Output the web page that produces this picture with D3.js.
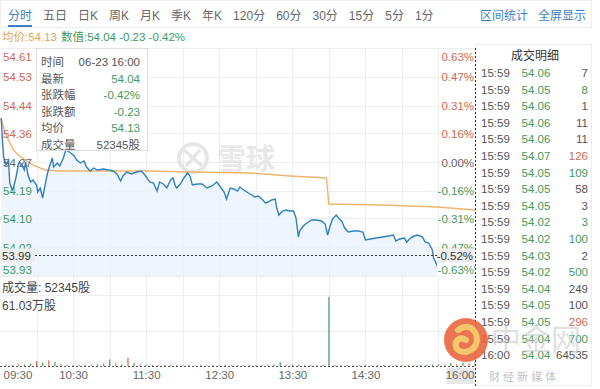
<!DOCTYPE html>
<html><head><meta charset="utf-8">
<script src="https://cdn.jsdelivr.net/npm/d3@7"></script>
<style>
body{margin:0;background:#fff;}
svg{display:block;font-family:"Liberation Sans","Noto Sans CJK SC",Arial,sans-serif;}
</style>
</head><body>
<svg id="c" width="600" height="389"></svg>
<script>
// ---------------- DATA ----------------
const preClose = 54.27;
const priceTimes = ["09:31","09:32","09:33","09:35","09:37","09:38","09:40","09:41","09:43","09:45","09:46","09:48","09:50","09:51","09:53","09:55","09:57","10:00","10:01","10:03","10:05","10:07","10:09","10:11","10:13","10:14","10:17","10:19","10:22","10:24","10:27","10:31","10:33","10:36","10:39","10:41","10:44","10:47","10:50","10:55","10:59","11:03","11:06","11:09","11:11","11:14","11:18","11:22","11:26","11:29","11:33","11:36","11:39","11:41","11:44","11:47","11:50","11:52","11:54","11:55","11:58","12:01","12:04","12:06","12:08","12:12","12:16","12:20","12:24","12:28","12:31","12:34","12:36","12:39","12:42","12:45","12:47","12:50","12:54","12:57","12:59","13:02","13:05","13:08","13:10","13:13","13:16","13:17","13:19","13:22","13:25","13:28","13:31","13:33","13:35","13:36","13:39","13:42","13:46","13:50","13:54","13:57","13:59","14:01","14:03","14:06","14:08","14:11","14:13","14:16","14:20","14:24","14:28","14:30","14:34","14:39","14:44","14:49","14:53","14:55","14:58","15:02","15:04","15:07","15:10","15:13","15:17","15:19","15:22","15:25","15:26","15:28","15:30","15:33","15:36","15:41","15:48","15:54","16:00"];
const priceValues = [54.402,54.336,54.285,54.261,54.276,54.207,54.186,54.192,54.222,54.261,54.270,54.261,54.246,54.270,54.231,54.210,54.216,54.201,54.180,54.192,54.162,54.201,54.237,54.261,54.282,54.255,54.267,54.258,54.282,54.306,54.300,54.288,54.276,54.267,54.273,54.255,54.243,54.252,54.246,54.249,54.246,54.243,54.234,54.213,54.228,54.240,54.234,54.240,54.243,54.231,54.210,54.207,54.183,54.210,54.204,54.192,54.216,54.222,54.198,54.192,54.204,54.222,54.237,54.228,54.201,54.204,54.204,54.192,54.198,54.210,54.195,54.180,54.159,54.192,54.189,54.183,54.195,54.186,54.177,54.171,54.165,54.168,54.159,54.147,54.150,54.156,54.159,54.135,54.111,54.123,54.126,54.123,54.123,54.102,54.045,54.063,54.078,54.087,54.096,54.096,54.093,54.084,54.051,54.078,54.099,54.111,54.102,54.090,54.072,54.060,54.063,54.063,54.060,54.036,54.039,54.042,54.045,54.048,54.051,54.033,54.039,54.042,54.030,54.042,54.048,54.051,54.045,54.030,54.027,54.006,53.982,53.967,53.949,53.955,53.946,53.955,53.952,53.952,53.955];
const avgTimes = ["09:31","09:34","09:41","09:46","09:57","10:07","10:19","11:33","12:06","12:55","13:28","13:58","14:00","14:44","15:29","16:00"];
const avgValues = [54.400,54.360,54.306,54.288,54.261,54.246,54.243,54.243,54.240,54.237,54.228,54.222,54.144,54.141,54.135,54.126];

const volTimes = ["09:35","09:40","09:45","09:50","09:55","10:00","10:05","10:10","10:15","10:20","10:25","10:30","10:35","10:40","10:45","10:50","10:55","11:00","11:05","11:10","11:15","11:20","11:25","11:30","11:35","11:40","11:45","11:50","11:55","12:00","12:05","12:10","12:15","12:20","12:25","12:30","12:35","12:40","12:45","12:50","12:55","13:00","13:05","13:10","13:15","13:20","13:25","13:30","13:35","13:40","13:45","13:50","13:55","14:00","14:05","14:10","14:15","14:20","14:25","14:30","14:35","14:40","14:45","14:50","14:55","15:00","15:05","15:10","15:15","15:20","15:25","15:30","15:35","15:40","15:45","15:50","15:55","16:00"];
const volValues = [1.2,1.0,1.6,1.2,2.0,4.2,3.0,4.8,3.6,1.5,1.0,0.8,1.0,0.8,1.2,1.4,2.2,5.6,2.4,1.5,7.2,2.6,1.4,1.0,0.8,1.0,0.8,1.2,0.9,0.8,1.0,0.7,0.8,0.6,0.8,0.7,1.0,0.8,0.9,0.7,1.0,0.8,0.9,1.2,1.4,3.2,1.0,0.9,1.3,0.8,0.9,0.7,1.0,59.5,1.0,0.8,0.9,0.7,0.8,1.0,0.7,0.8,0.9,0.7,1.0,0.8,0.9,0.8,1.0,0.9,1.2,1.5,1.2,2.5,1.4,3.0,2.2,3.6];
const volUp = [1,0,1,0,0,1,0,1,0,1,0,1,0,0,1,0,1,0,1,0,1,0,1,0,0,1,0,1,0,1,0,0,1,0,0,1,0,1,0,0,1,0,0,1,0,0,1,0,0,1,0,1,0,0,1,0,0,1,0,0,1,0,1,0,0,1,0,1,0,0,0,0,1,0,1,0,1,0];
const volMax = 61.03;

const pctTicks = [0.63,0.47,0.31,0.16,0,-0.16,-0.31,-0.47,-0.63];
const priceTickLabels = ["54.61","54.53","54.44","54.36","54.27","54.19","54.10","54.02","53.93"];
const pctTickLabels = ["0.63%","0.47%","0.31%","0.16%","0.00%","-0.16%","-0.31%","-0.47%","-0.63%"];
const timeTicks = ["09:30","10:30","11:30","12:30","13:30","14:30","16:00"];
const gridTimes = ["10:00","10:30","11:00","11:30","12:00","12:30","13:00","13:30","14:00","14:30","15:00","15:30"];
const lastPrice = 53.99, lastPctLabel = "-0.52%", lastPriceLabel = "53.99";

const tabs = ["分时","五日","日K","周K","月K","季K","年K","120分","60分","30分","15分","5分","1分"];
const links = ["区间统计","全屏显示"];
const headerAvg = "均价:54.13";
const headerVal = "数值:54.04 -0.23 -0.42%";
const volLabel = "成交量: 52345股";
const volMaxLabel = "61.03万股";

const tipLabels = ["时间","最新","张跌幅","张跌额","均价","成交量"];
const tipValues = ["06-23 16:00","54.04","-0.42%","-0.23","54.13","52345股"];

const detailTitle = "成交明细";
const detailTimes = ["15:59","15:59","15:59","15:59","15:59","15:59","15:59","15:59","15:59","15:59","15:59","15:59","15:59","15:59","15:59","15:59","15:59","16:00"];
const detailPrices = ["54.06","54.05","54.06","54.06","54.06","54.07","54.05","54.05","54.05","54.02","54.02","54.03","54.02","54.04","54.05","54.05","54.04","54.04"];
const detailVols = ["7","8","1","11","11","126","109","58","3","3","100","2","500","249","100","296","700","64535"];
const detailSide = ["n","s","n","n","n","b","s","n","n","s","s","n","s","n","n","b","s","n"];

// ---------------- DRAW ----------------
const RED = "#cf6a52", GREEN = "#3f9a5c", GRAY = "#666", BLUE = "#3d7fc3";
const svg = d3.select("#c");
const toMin = t => { const [h, m] = t.split(":").map(Number); return (h - 9) * 60 + m - 30; };

const L = 0, R = 475, T = 48, B = 276, VT = 295, VB = 366;
const x = d3.scaleLinear().domain([0, 390]).range([L, R]);
const pMin = preClose * (1 - 0.0063), pMax = preClose * (1 + 0.0063);
const y = d3.scaleLinear().domain([pMin, pMax]).range([B, T]);
const yv = d3.scaleLinear().domain([0, volMax]).range([VB, VT]);

// top bar
svg.append("rect").attr("x", 0.5).attr("y", 0.5).attr("width", 591).attr("height", 27).attr("fill", "#fff").attr("stroke", "#eee");
let tx = 8;
tabs.forEach((t, i) => {
  const el = svg.append("text").attr("x", tx).attr("y", 19.5).attr("font-size", 12)
    .attr("fill", i === 0 ? BLUE : "#666").text(t);
  const w = el.node().getComputedTextLength();
  if (i === 0) svg.append("rect").attr("x", tx).attr("y", 25).attr("width", w).attr("height", 2).attr("fill", BLUE);
  tx += w + 11;
});
svg.append("text").attr("x", 480).attr("y", 19.5).attr("font-size", 12).attr("fill", BLUE).text(links[0]);
svg.append("text").attr("x", 538).attr("y", 19.5).attr("font-size", 12).attr("fill", BLUE).text(links[1]);

// header
svg.append("text").attr("x", 2).attr("y", 41).attr("font-size", 11.5).attr("fill", "#e3a34a").text(headerAvg);
svg.append("text").attr("x", 61).attr("y", 41).attr("font-size", 11.5).attr("fill", GREEN).text(headerVal);

// grid main
const grid = svg.append("g").attr("stroke", "#eeeeee").attr("stroke-width", 1);
pctTicks.forEach(p => {
  const yy = Math.round(y(preClose * (1 + p / 100))) + 0.5;
  grid.append("line").attr("x1", L).attr("x2", R).attr("y1", yy).attr("y2", yy);
});
gridTimes.forEach(t => {
  const xx = Math.round(x(toMin(t))) + 0.5;
  grid.append("line").attr("x1", xx).attr("x2", xx).attr("y1", T).attr("y2", B);
  grid.append("line").attr("x1", xx).attr("x2", xx).attr("y1", B + 1).attr("y2", VB);
});
[VT, 331].forEach(v => grid.append("line").attr("x1", L).attr("x2", R).attr("y1", v + 0.5).attr("y2", v + 0.5));

// watermark xueqiu
const wm = svg.append("g").attr("opacity", 0.9);
wm.append("circle").attr("cx", 193).attr("cy", 158).attr("r", 14).attr("fill", "none").attr("stroke", "#e4e4e4").attr("stroke-width", 4);
wm.append("path").attr("d", "M184,150 Q193,158 202,166 M186,166 Q193,158 200,150").attr("stroke", "#e4e4e4").attr("stroke-width", 3.5).attr("fill", "none");
wm.append("text").attr("x", 217).attr("y", 170).attr("font-size", 29).attr("font-weight", "bold").attr("fill", "#e6e6e6").text("雪球");

// price area + line
const pts = priceTimes.map((t, i) => [toMin(t), priceValues[i]]);
svg.append("path").datum(pts)
  .attr("d", d3.area().x(d => x(d[0])).y0(B).y1(d => y(d[1])))
  .attr("fill", "#eaf3fb").attr("opacity", 0.8);
svg.append("path").datum(avgTimes.map((t, i) => [toMin(t), avgValues[i]]))
  .attr("d", d3.line().x(d => x(d[0])).y(d => y(d[1])))
  .attr("fill", "none").attr("stroke", "#eeb46e").attr("stroke-width", 1.4);
svg.append("path").datum(pts)
  .attr("d", d3.line().x(d => x(d[0])).y(d => y(d[1])))
  .attr("fill", "none").attr("stroke", "#2f80bf").attr("stroke-width", 1.4);

// last price dotted line
const ly = Math.round(y(lastPrice)) + 0.5;
svg.append("line").attr("x1", 35).attr("x2", 437).attr("y1", ly).attr("y2", ly)
  .attr("stroke", "#333").attr("stroke-dasharray", "2,2");

// left / right axis labels
const tickVals = pctTicks.map(p => preClose * (1 + p / 100));
const colorFor = i => pctTicks[i] > 0 ? RED : pctTicks[i] < 0 ? GREEN : GRAY;
const ax = svg.append("g").attr("transform", `translate(${L + 2},0)`)
  .call(d3.axisRight(y).tickValues(tickVals).tickSize(0).tickPadding(1).tickFormat((d, i) => priceTickLabels[i]));
const ax2 = svg.append("g").attr("transform", `translate(${R - 1},0)`)
  .call(d3.axisLeft(y).tickValues(tickVals).tickSize(0).tickPadding(0).tickFormat((d, i) => pctTickLabels[i]));
[ax, ax2].forEach(a => {
  a.select(".domain").remove();
  a.selectAll("text").attr("font-size", 11.5).attr("font-family", null)
    .attr("fill", (d, i) => colorFor(i))
    .attr("dy", (d, i) => i === 0 ? "1.05em" : i === pctTicks.length - 1 ? "-0.25em" : "0.35em");
});
const bl = ax2.selectAll(".tick").filter((d, i) => i === pctTicks.length - 1);
bl.insert("rect", "text").attr("x", -37).attr("y", -12).attr("width", 37).attr("height", 12).attr("fill", "#fff");

// last price label boxes
svg.append("rect").attr("x", 0).attr("y", ly - 7).attr("width", 35).attr("height", 14).attr("fill", "#eeeeee");
svg.append("text").attr("x", 2).attr("y", ly + 4).attr("font-size", 11.5).attr("fill", "#333").text(lastPriceLabel);
svg.append("rect").attr("x", 437).attr("y", ly - 7).attr("width", 37).attr("height", 14).attr("fill", "#eeeeee");
svg.append("text").attr("x", 473).attr("y", ly + 4).attr("text-anchor", "end").attr("font-size", 11.5).attr("fill", "#333").text(lastPctLabel);

// tooltip
const tip = svg.append("g");
tip.append("rect").attr("x", 36.5).attr("y", 48.5).attr("width", 111).attr("height", 102).attr("fill", "#fff").attr("stroke", "#ddd");
tipLabels.forEach((l, i) => {
  const yy = 66 + i * 16.5;
  tip.append("text").attr("x", 41).attr("y", yy).attr("font-size", 11.5).attr("fill", "#555").text(l);
  tip.append("text").attr("x", 140).attr("y", yy).attr("text-anchor", "end").attr("font-size", 11.5)
    .attr("fill", (i === 0 || i === 5) ? "#555" : GREEN).text(tipValues[i]);
});

// volume
svg.append("text").attr("x", 2).attr("y", 292).attr("font-size", 12).attr("fill", "#444").text(volLabel);
svg.append("text").attr("x", 2).attr("y", 310).attr("font-size", 12).attr("fill", "#444").text(volMaxLabel);
svg.append("g").selectAll("rect").data(volTimes).join("rect")
  .attr("x", d => x(toMin(d)) - 0.5).attr("width", 1.2)
  .attr("y", (d, i) => yv(volValues[i])).attr("height", (d, i) => VB - yv(volValues[i]))
  .attr("fill", (d, i) => volUp[i] ? "#d9694f" : "#4a9a62");
svg.append("line").attr("x1", L).attr("x2", R).attr("y1", VB + 0.5).attr("y2", VB + 0.5)
  .attr("stroke", "#555").attr("stroke-dasharray", "2,2");

// time axis
const tax = svg.append("g").attr("transform", `translate(0,${VB})`)
  .call(d3.axisBottom(x).tickValues(timeTicks.map(toMin)).tickSize(0).tickPadding(5).tickFormat((d, i) => timeTicks[i]));
tax.select(".domain").remove();
tax.selectAll("text").attr("font-size", 11.5).attr("font-family", null).attr("fill", "#666")
  .attr("text-anchor", (d, i) => i === 0 ? "start" : i === timeTicks.length - 1 ? "end" : "middle")
  .attr("dx", (d, i) => i === 0 ? 3 : i === timeTicks.length - 1 ? -1 : 0);
tax.selectAll(".tick").filter((d, i) => i === timeTicks.length - 1)
  .insert("rect", "text").attr("x", -29).attr("y", 2).attr("width", 29).attr("height", 16).attr("fill", "#e8e8e8");

// right panel
svg.append("rect").attr("x", 475.5).attr("y", 44.5).attr("width", 116).attr("height", 341).attr("fill", "none").attr("stroke", "#eee");
svg.append("line").attr("x1", R + 0.5).attr("x2", R + 0.5).attr("y1", T).attr("y2", 386)
  .attr("stroke", "#333").attr("stroke-dasharray", "2,2");
svg.append("text").attr("x", 535).attr("y", 60).attr("text-anchor", "middle").attr("font-size", 12).attr("fill", "#333").text(detailTitle);
const sideColor = s => s === "b" ? RED : s === "s" ? GREEN : "#555";
detailTimes.forEach((t, i) => {
  const yy = 77 + i * 16.6;
  svg.append("text").attr("x", 481).attr("y", yy).attr("font-size", 11.5).attr("fill", "#555").text(t);
  svg.append("text").attr("x", 536).attr("y", yy).attr("text-anchor", "middle").attr("font-size", 11.5).attr("fill", GREEN).text(detailPrices[i]);
  svg.append("text").attr("x", 588).attr("y", yy).attr("text-anchor", "end").attr("font-size", 11.5).attr("fill", sideColor(detailSide[i])).text(detailVols[i]);
});

// 中金网 watermark
const zj = svg.append("g");
zj.append("circle").attr("cx", 466).attr("cy", 340).attr("r", 22).attr("fill", "#e8663f").attr("opacity", 0.9);
zj.append("path").attr("d", "M458,330 Q470,322 476,334 Q480,348 466,352 Q454,352 456,342 Q460,336 466,340")
  .attr("fill", "none").attr("stroke", "#f6c66c").attr("stroke-width", 6).attr("stroke-linecap", "round");
zj.append("text").attr("x", 491).attr("y", 350).attr("font-size", 30).attr("fill", "#c8c8c8").attr("opacity", 0.55).text("中金网");
zj.append("text").attr("x", 489).attr("y", 381).attr("font-size", 11).attr("fill", "#aaa").attr("opacity", 0.7).text("财 经 新 媒 体");
</script>
</body></html>
